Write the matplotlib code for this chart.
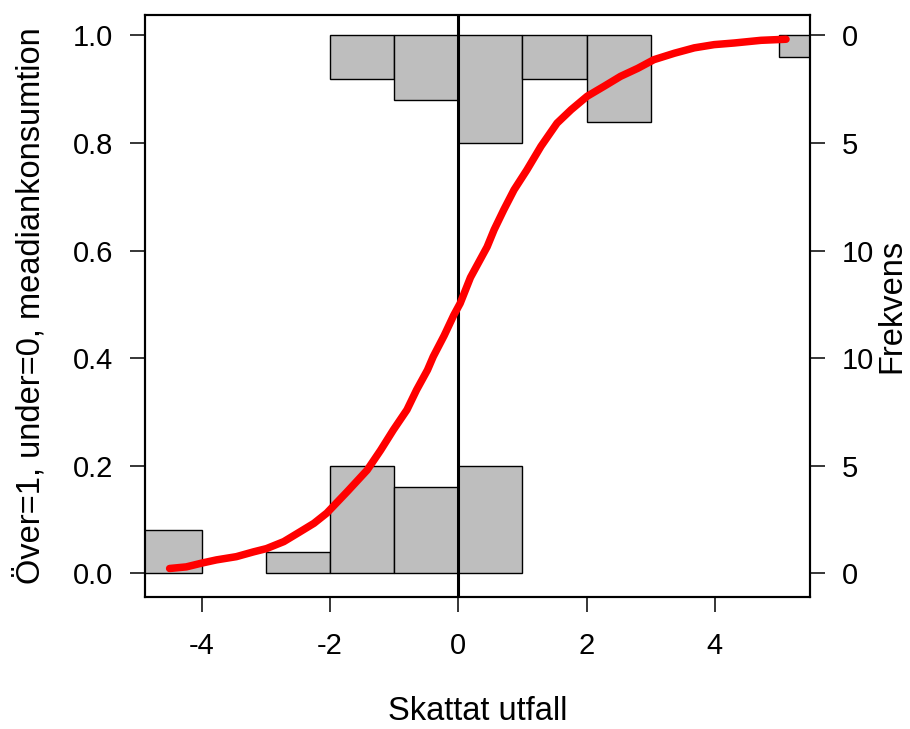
import matplotlib
matplotlib.use("Agg")
import matplotlib.pyplot as plt

plt.rcParams['font.family'] = ['Liberation Sans', 'DejaVu Sans']

# histogram bins (left edges, width 1) and counts for the two outcome groups
bin_left = [-5, -4, -3, -2, -1, 0, 1, 2, 3, 4, 5]
count_under = [2, 0, 1, 5, 4, 5, 0, 0, 0, 0, 0]   # y = 0, drawn from the bottom
count_over = [0, 0, 0, 2, 3, 5, 2, 4, 0, 0, 1]    # y = 1, drawn from the top

# fitted probability curve
curve_x = [-4.50, -4.24, -4.00, -3.77, -3.46, -3.19, -2.99, -2.72, -2.47, -2.25,
           -2.05, -1.73, -1.42, -1.21, -1.01, -0.80, -0.65, -0.48, -0.39, -0.22,
           -0.07, 0.03, 0.19, 0.45, 0.56, 0.71, 0.87, 1.07, 1.29, 1.54, 1.76,
           2.01, 2.28, 2.53, 2.80, 3.05, 3.37, 3.68, 3.99, 4.30, 4.72, 5.11]
curve_y = [0.009, 0.012, 0.019, 0.025, 0.031, 0.040, 0.046, 0.059, 0.077, 0.093,
           0.112, 0.152, 0.192, 0.229, 0.267, 0.304, 0.341, 0.378, 0.403, 0.442,
           0.480, 0.502, 0.550, 0.607, 0.639, 0.676, 0.713, 0.750, 0.794, 0.837,
           0.862, 0.887, 0.906, 0.924, 0.939, 0.955, 0.967, 0.977, 0.983, 0.986,
           0.991, 0.993]

y_ticks = [0.0, 0.2, 0.4, 0.6, 0.8, 1.0]
left_labels = ['0.0', '0.2', '0.4', '0.6', '0.8', '1.0']
right_labels = ['0', '5', '10', '10', '5', '0']
x_ticks = [-4, -2, 0, 2, 4]

per_count = 0.04   # height of one observation in y units

fig = plt.figure(figsize=(9.10, 7.29), dpi=100)
ax = fig.add_axes([145 / 910, 1 - 597 / 729, 665 / 910, 582.5 / 729])

hu = [c * per_count for c in count_under]
ho = [c * per_count for c in count_over]
for x, h in zip(bin_left, hu):
    if h > 0:
        ax.bar(x, h, width=1, align='edge', bottom=0, color='#BEBEBE',
               edgecolor='black', linewidth=1.0, zorder=2)
for x, h in zip(bin_left, ho):
    if h > 0:
        ax.bar(x, h, width=1, align='edge', bottom=1 - h, color='#BEBEBE',
               edgecolor='black', linewidth=1.0, zorder=2)

ax.axvline(0, color='black', linewidth=2.2, zorder=3)
ax.plot(curve_x, curve_y, color='red', linewidth=5.4, solid_capstyle='round',
        solid_joinstyle='round', zorder=4)

ax.set_xlim(-4.884, 5.484)
ax.set_ylim(-0.044, 1.039)
ax.set_xticks(x_ticks)
ax.set_xticklabels([str(v) for v in x_ticks])
ax.set_yticks(y_ticks)
ax.set_yticklabels(left_labels)
ax.tick_params(axis='both', labelsize=21, length=11, width=1.1)
ax.tick_params(axis='x', pad=14)
ax.tick_params(axis='y', pad=12)
for s in ax.spines.values():
    s.set_linewidth(1.5)

ax.set_xlabel('Skattat utfall', fontsize=23.5, labelpad=26)
ax.set_ylabel('Över=1, under=0, meadiankonsumtion', fontsize=23.5, labelpad=19)

ax2 = ax.twinx()
ax2.set_ylim(ax.get_ylim())
ax2.set_yticks(y_ticks)
ax2.set_yticklabels(right_labels)
ax2.tick_params(axis='y', labelsize=21, length=11, width=1.1, pad=12)
ax2.set_ylabel('Frekvens', fontsize=23.5)
ax2.yaxis.set_label_coords(1.1, 0.5)
for s in ax2.spines.values():
    s.set_linewidth(1.5)

fig.savefig('out.png', dpi=100)
